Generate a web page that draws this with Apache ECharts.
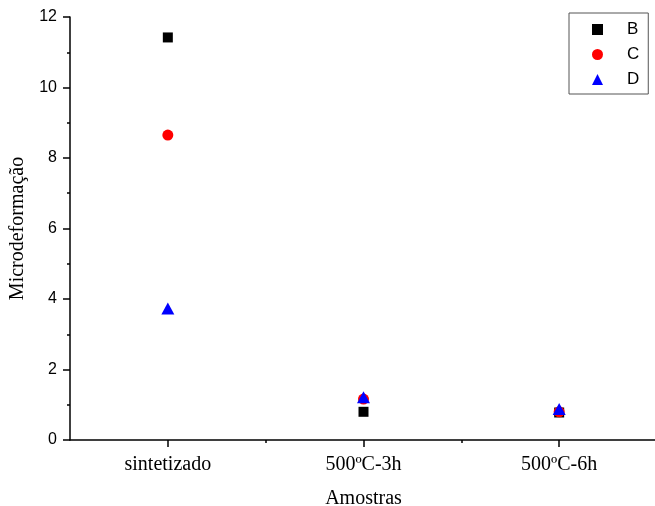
<!DOCTYPE html>
<html>
<head>
<meta charset="utf-8">
<script src="https://cdn.jsdelivr.net/npm/echarts@6/dist/echarts.min.js"></script>
<style>html,body{margin:0;padding:0;background:#fff}#c{width:655px;height:506px}</style>
</head>
<body>
<div id="c"></div>
<script>
const categories = ['sintetizado', '500ºC-3h', '500ºC-6h'];
const categoryPos = [1, 2, 3];
const seriesB = [11.42, 0.80, 0.78];
const seriesC = [8.65, 1.16, 0.80];
const seriesD = [3.73, 1.21, 0.88];
const yTicks = [0, 2, 4, 6, 8, 10, 12];

const chart = echarts.init(document.getElementById('c'));
const pts = arr => arr.map((v, i) => [categoryPos[i], v]);
const serif = '"Liberation Serif", "Times New Roman", serif';
const sans = '"Liberation Sans", Arial, sans-serif';

chart.setOption({
  animation: false,
  backgroundColor: '#fff',
  grid: { left: 70, right: -2, top: 17, bottom: 66, containLabel: false, outerBoundsMode: 'none' },
  legend: {
    orient: 'vertical',
    left: 569, top: 13,
    padding: [8, 9, 6, 23],
    itemWidth: 11, itemHeight: 11, itemGap: 8,
    symbolKeepAspect: true,
    borderColor: '#555', borderWidth: 1,
    textStyle: { fontFamily: sans, fontSize: 17, color: '#000', padding: [0, 0, 0, 19] },
    data: ['B', 'C', 'D']
  },
  xAxis: [{
    type: 'value', min: 0.5, max: 3.5, interval: 0.5,
    name: 'Amostras', nameLocation: 'middle', nameGap: 49,
    nameTextStyle: { fontFamily: serif, fontSize: 20, color: '#000' },
    axisLine: { show: true, lineStyle: { color: '#000', width: 1.5 } },
    axisTick: { show: true, inside: false, length: 7, lineStyle: { color: '#000', width: 1.5 }, customValues: categoryPos },
    axisLabel: {
      margin: 15, fontFamily: serif, fontSize: 20, color: '#000',
      customValues: categoryPos,
      formatter: v => { const i = categoryPos.indexOf(v); return i >= 0 ? categories[i] : ''; }
    },
    splitLine: { show: false }
  }, {
    type: 'value', min: 0.5, max: 3.5, interval: 0.5, position: 'bottom',
    axisLine: { show: false },
    axisTick: { show: true, inside: false, length: 3, lineStyle: { color: '#000', width: 1.5 }, customValues: [1.5, 2.5] },
    axisLabel: { show: false },
    splitLine: { show: false }
  }],
  yAxis: {
    type: 'value', min: 0, max: 12, interval: 2,
    name: 'Microdeformação', nameLocation: 'middle', nameGap: 42,
    nameTextStyle: { fontFamily: serif, fontSize: 20, color: '#000' },
    axisLine: { show: true, lineStyle: { color: '#000', width: 1.5 } },
    axisTick: { show: true, inside: false, length: 7, lineStyle: { color: '#000', width: 1.5 } },
    minorTick: { show: true, splitNumber: 2, length: 3, lineStyle: { color: '#000', width: 1.5 } },
    axisLabel: { margin: 13, fontFamily: sans, fontSize: 16, color: '#000', customValues: yTicks },
    splitLine: { show: false }
  },
  series: [
    { name: 'B', type: 'scatter', symbol: 'rect', symbolSize: 10, itemStyle: { color: '#000', opacity: 1 }, data: pts(seriesB) },
    { name: 'C', type: 'scatter', symbol: 'circle', symbolSize: 11, itemStyle: { color: '#ff0000', opacity: 1 }, data: pts(seriesC) },
    { name: 'D', type: 'scatter', symbol: 'triangle', symbolSize: [13, 12], itemStyle: { color: '#0000ff', opacity: 1 }, data: pts(seriesD) }
  ]
});
</script>
</body>
</html>
